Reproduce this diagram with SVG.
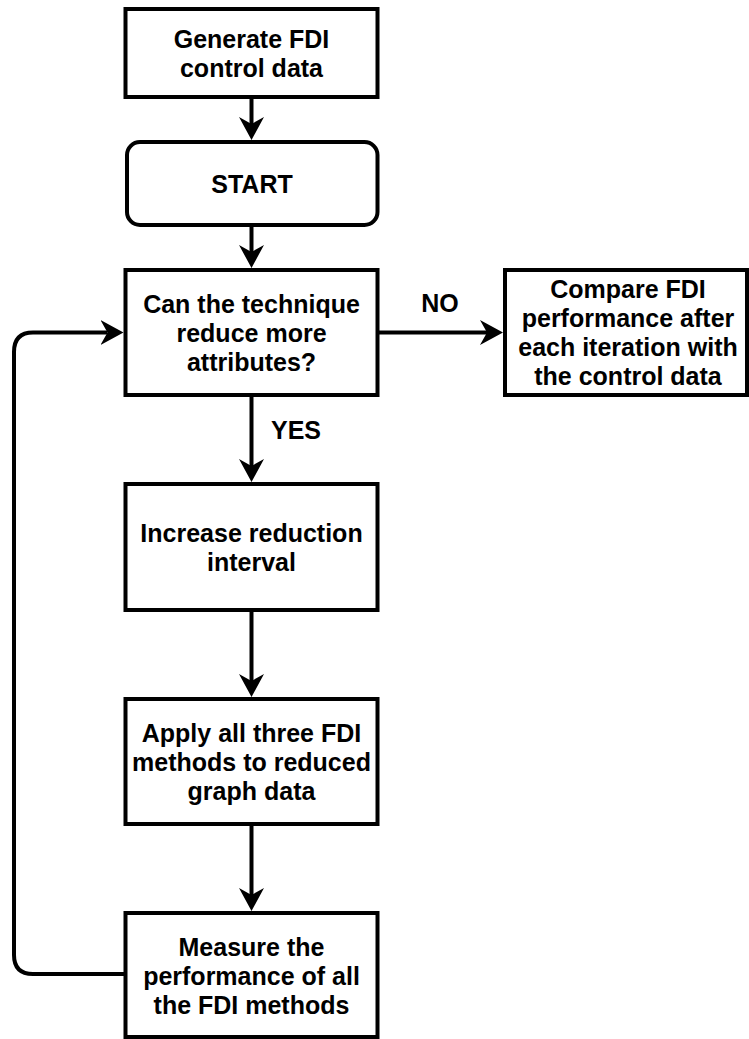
<svg xmlns="http://www.w3.org/2000/svg" width="749" height="1039" viewBox="0 0 749 1039">
  <style>
    .box { fill: #ffffff; stroke: #000000; stroke-width: 4; }
    .edge { fill: none; stroke: #000000; stroke-width: 4; }
    text { font-family: "Liberation Sans", Arial, Helvetica, sans-serif; font-weight: bold; font-size: 25px; fill: #000000; }
    .c { text-anchor: middle; }
  </style>
  <defs>
    <!-- classic arrowhead, anchored at its notch so the shaft ends inside it -->
    <marker id="arrow" markerUnits="userSpaceOnUse" markerWidth="23" markerHeight="25" viewBox="0 0 23 25" refX="7" refY="12.5" orient="auto">
      <path d="M23,12.5 L0,0 L7,12.5 L0,25 Z" fill="#000000"/>
    </marker>
  </defs>

  <rect width="749" height="1039" fill="#ffffff"/>

  <g id="connectors">
    <path class="edge" d="M251.5,97 V124" marker-end="url(#arrow)"/>
    <path class="edge" d="M251.5,225 V252" marker-end="url(#arrow)"/>
    <path class="edge" d="M377.5,332.5 H487" marker-end="url(#arrow)"/>
    <path class="edge" d="M251.5,395 V466" marker-end="url(#arrow)"/>
    <path class="edge" d="M251.5,610 V681" marker-end="url(#arrow)"/>
    <path class="edge" d="M251.5,824 V895" marker-end="url(#arrow)"/>
    <path class="edge" d="M125.5,974 H33 Q14,974 14,955 V352 Q14,332.5 33,332.5 H107.5" marker-end="url(#arrow)"/>
    <text x="440" y="311.5" class="c">NO</text>
    <text x="271" y="439">YES</text>
  </g>

  <g id="generate">
    <rect class="box" x="125.5" y="9" width="252" height="88"/>
    <text class="c" x="251.5" y="47.7">Generate FDI<tspan x="251.5" dy="29">control data</tspan></text>
  </g>

  <g id="start">
    <rect class="box" x="127" y="142" width="250.5" height="83" rx="13" ry="13"/>
    <text class="c" x="252" y="193">START</text>
  </g>

  <g id="decision">
    <rect class="box" x="125.5" y="270" width="252" height="125"/>
    <text class="c" x="251.5" y="313">Can the technique<tspan x="251.5" dy="29">reduce more</tspan><tspan x="251.5" dy="29">attributes?</tspan></text>
  </g>

  <g id="compare">
    <rect class="box" x="505" y="270" width="242" height="125"/>
    <text class="c" x="628" y="297.5">Compare FDI<tspan x="628" dy="29">performance after</tspan><tspan x="628" dy="29">each iteration with</tspan><tspan x="628" dy="29">the control data</tspan></text>
  </g>

  <g id="increase">
    <rect class="box" x="125.5" y="484" width="252" height="126"/>
    <text class="c" x="251.5" y="541.7">Increase reduction<tspan x="251.5" dy="29">interval</tspan></text>
  </g>

  <g id="apply">
    <rect class="box" x="125.5" y="699" width="252" height="125"/>
    <text class="c" x="251.5" y="741.7">Apply all three FDI<tspan x="251.5" dy="29">methods to reduced</tspan><tspan x="251.5" dy="29">graph data</tspan></text>
  </g>

  <g id="measure">
    <rect class="box" x="125.5" y="913" width="252" height="124"/>
    <text class="c" x="251.5" y="956">Measure the<tspan x="251.5" dy="29">performance of all</tspan><tspan x="251.5" dy="29">the FDI methods</tspan></text>
  </g>
</svg>
